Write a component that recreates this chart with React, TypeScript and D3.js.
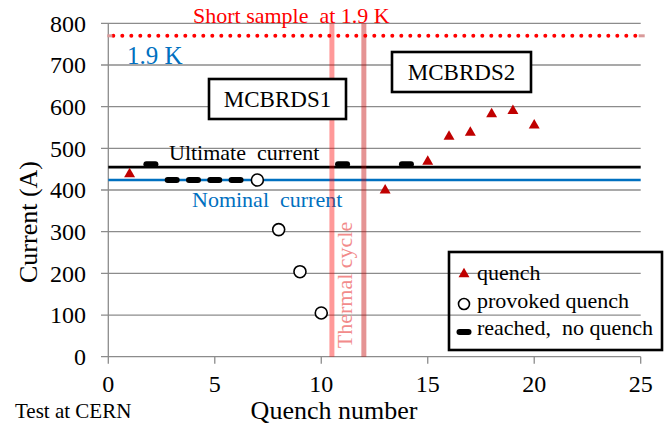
import * as d3 from "d3";

// values
const quenchX = [1, 13, 15, 16, 17, 18, 19, 20];
const quenchY = [438, 399, 468, 528, 538, 582, 590, 555];
const provokedX = [7, 8, 9, 10];
const provokedY = [424, 305, 204, 105];
const reachedX = [2, 3, 4, 5, 6, 11, 14];
const reachedY = [462, 424, 424, 424, 424, 462, 462];
const ultimateCurrent = 455;
const nominalCurrent = 424;
const shortSample = 770;
const thermalCycle = [10.5, 12];
const xTicks = [0, 5, 10, 15, 20, 25];
const yTicks = [0, 100, 200, 300, 400, 500, 600, 700, 800];

const W = 664;
const H = 430;
const serif = "Liberation Serif";
const tx = { fontFamily: serif, whiteSpace: "pre" as const };

function App() {
	const x = d3.scaleLinear().domain([0, 25]).range([108.3, 640.7]);
	const y = d3.scaleLinear().domain([0, 800]).range([356.7, 23.3]);
	const tri: string = d3.symbol().type(d3.symbolTriangle).size(52)() as string;
	const hline = (v: number) =>
		d3.line<number>().x((d) => x(d)).y(() => y(v))([0, 25]) as string;
	const thermalColors = [
		{ c: "#ff0000", o: 0.4 },
		{ c: "#c00000", o: 0.42 },
	];

	const dash = (cx: number, cy: number, key: string) => (
		<rect key={key} x={cx - 7.5} y={cy - 3} width={15} height={6} rx={3} fill="#000" />
	);

	return (
		<svg
			width={W}
			height={H}
			style={{ position: "absolute", left: 0, top: 0, background: "#fff" }}
		>
			{/* grid */}
			{yTicks.map((t) => (
				<line key={t} x1={101} x2={640.7} y1={y(t)} y2={y(t)} stroke="#8c8c8c" strokeWidth={1.3} />
			))}
			{/* axes */}
			<line x1={x(0)} x2={x(0)} y1={y(800)} y2={y(0)} stroke="#8c8c8c" strokeWidth={1.3} />
			{xTicks.map((t) => (
				<line key={t} x1={x(t)} x2={x(t)} y1={y(0)} y2={y(0) + 7} stroke="#8c8c8c" strokeWidth={1.3} />
			))}
			{yTicks.map((t) => (
				<text key={t} x={86} y={y(t)} dy="0.35em" textAnchor="end" fontSize={24} style={tx}>
					{t}
				</text>
			))}
			{xTicks.map((t) => (
				<text key={t} x={x(t)} y={392} textAnchor="middle" fontSize={24} style={tx}>
					{t}
				</text>
			))}
			<text transform="translate(37,222) rotate(-90)" textAnchor="middle" fontSize={26} style={tx}>
				Current (A)
			</text>
			<text x={334} y={419} textAnchor="middle" fontSize={26} style={tx}>
				Quench number
			</text>
			<text x={15} y={418} fontSize={21} style={tx}>
				Test at CERN
			</text>

			{/* reference lines */}
			<path d={hline(ultimateCurrent)} stroke="#000" strokeWidth={2.6} fill="none" />
			<path d={hline(nominalCurrent)} stroke="#0070C0" strokeWidth={2.6} fill="none" />
			<text x={169} y={160} fontSize={22} style={tx}>
				Ultimate  current
			</text>
			<text x={192} y={207} fontSize={22} fill="#0070C0" style={tx}>
				Nominal  current
			</text>

			{/* thermal cycle */}
			{thermalCycle.map((t, i) => (
				<line
					key={t}
					x1={x(t)}
					x2={x(t)}
					y1={y(800)}
					y2={y(0)}
					stroke={thermalColors[i].c}
					strokeOpacity={thermalColors[i].o}
					strokeWidth={5}
				/>
			))}
			<text
				transform={`translate(${x(11.5) - 1},${y(172)}) rotate(-90)`}
				textAnchor="middle"
				fontSize={22}
				fill="#f28b8b"
				style={tx}
			>
				Thermal cycle
			</text>

			{/* short sample */}
			<line
				x1={x(0) + 5}
				x2={x(25) - 5}
				y1={y(shortSample)}
				y2={y(shortSample)}
				stroke="#ff0000"
				strokeWidth={4}
				strokeLinecap="round"
				strokeDasharray="0 9"
			/>
			<line x1={x(0) - 1} x2={x(0) + 4} y1={y(shortSample)} y2={y(shortSample)} stroke="#d99a9a" strokeWidth={3} />
			<line x1={x(25) - 2} x2={x(25) + 4} y1={y(shortSample)} y2={y(shortSample)} stroke="#d99a9a" strokeWidth={3} />
			<text x={193} y={23} fontSize={22} fill="#ff0000" style={tx}>
				Short sample  at 1.9 K
			</text>
			<text x={127} y={64} fontSize={25} fill="#0070C0" style={tx}>
				1.9 K
			</text>

			{/* magnet labels */}
			<rect x={209} y={79} width={137} height={40} fill="#fff" stroke="#000" strokeWidth={2.6} />
			<text x={277.5} y={107} textAnchor="middle" fontSize={23} style={tx}>
				MCBRDS1
			</text>
			<rect x={392} y={52} width={139} height={40} fill="#fff" stroke="#000" strokeWidth={2.6} />
			<text x={461.5} y={80} textAnchor="middle" fontSize={23} style={tx}>
				MCBRDS2
			</text>

			{/* data */}
			{reachedX.map((v, i) => dash(x(v), y(reachedY[i]), `r${i}`))}
			{provokedX.map((v, i) => (
				<circle key={i} cx={x(v)} cy={y(provokedY[i])} r={6} fill="#fff" stroke="#000" strokeWidth={1.6} />
			))}
			{quenchX.map((v, i) => (
				<path key={i} d={tri} transform={`translate(${x(v)},${y(quenchY[i])})`} fill="#C00000" />
			))}

			{/* legend */}
			<rect x={449} y={252} width={213} height={98} fill="none" stroke="#000" strokeWidth={2.6} />
			<path d={tri} transform="translate(464,274)" fill="#C00000" />
			<text x={477} y={280} fontSize={22} style={tx}>
				quench
			</text>
			<circle cx={464} cy={304} r={5.5} fill="#fff" stroke="#000" strokeWidth={1.6} />
			<text x={477} y={308} fontSize={22} style={tx}>
				provoked quench
			</text>
			{dash(464, 332, "legdash")}
			<text x={477} y={335} fontSize={22} style={tx}>
				reached,  no quench
			</text>
		</svg>
	);
}

export default App;
